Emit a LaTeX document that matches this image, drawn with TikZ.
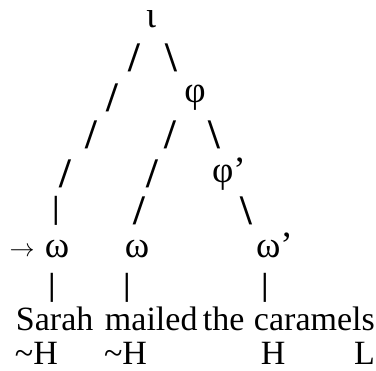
\documentclass[tikz,border=0pt]{standalone}
\usepackage{graphicx}
\usepackage{fontspec}
\setmainfont{Liberation Serif}
\begin{document}
\begin{tikzpicture}[x=1pt,y=-1pt,
  every node/.style={inner sep=0pt,outer sep=0pt},
  greek/.style={font=\fontsize{37}{39}\selectfont,anchor=base},
  greekw/.style={font=\fontsize{37}{39}\selectfont,anchor=base west},
  slashbr/.style={font=\fontsize{42}{44}\selectfont\bfseries,anchor=center},
  barbr/.style={font=\fontsize{32}{34}\selectfont\bfseries,anchor=center},
  word/.style={font=\fontsize{34}{36}\selectfont,anchor=base west}]
\useasboundingbox (0,0) rectangle (376,371);
% tree labels
\node[greek] (iota) at (151,28) {ι};
\node[greek] (phi) at (195,103) {φ};
\node[greekw] (phip) at (212,183) {φ’};
\node[anchor=center] (arr) at (22,252) {\resizebox{25pt}{!}{$\rightarrow$}};
\node[greek] (w1) at (57,258) {ω};
\node[greek] (w2) at (137,258) {ω};
\node[greekw] (w3) at (256,258) {ω’};
% branches
\node[slashbr] (s21) at (134,57.5) {/};
\node[slashbr] (b22) at (171,57.5) {\textbackslash};
\node[slashbr] (s31) at (112,97.5) {/};
\node[slashbr] (s41) at (91.5,135) {/};
\node[slashbr] (s42) at (170,135) {/};
\node[slashbr] (b43) at (214,135) {\textbackslash};
\node[slashbr] (s51) at (65.5,173.5) {/};
\node[slashbr] (s52) at (152,173.5) {/};
\node[barbr] (v61) at (56,211) {|};
\node[slashbr] (s62) at (139,211) {/};
\node[slashbr] (b63) at (246.5,211) {\textbackslash};
\node[barbr] (v81) at (52,287.5) {|};
\node[barbr] (v82) at (127,287.5) {|};
\node[barbr] (v83) at (265,287.5) {|};
% sentence
\node[word] (sarah) at (16,331) {Sarah};
\node[word] (mailed) at (105,331) {mailed};
\node[word] (the) at (203,331) {the};
\node[word] (caramels) at (254,331) {caramels};
% tones
\node[word] (t1) at (15,365) {\textasciitilde H};
\node[word] (t2) at (104,365) {\textasciitilde H};
\node[word] (t3) at (261,365) {H};
\node[word] (t4) at (354,365) {L};
\end{tikzpicture}
\end{document}
